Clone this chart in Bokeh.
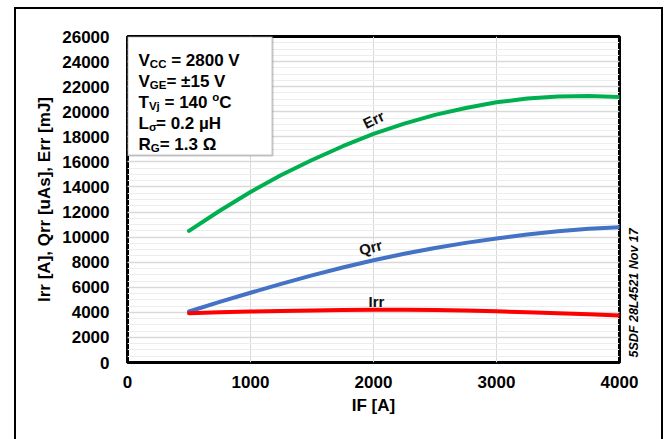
from bokeh.plotting import figure
from bokeh.models import (Range1d, SingleIntervalTicker, FixedTicker, Label,
                          BoxAnnotation, LinearAxis)
from bokeh.embed import file_html
from bokeh.resources import INLINE
import math

# ---- data ----
IF = [500, 750, 1000, 1250, 1500, 1750, 2000, 2250, 2500, 2750, 3000, 3250, 3500, 3750, 4000]
Err = [10500, 12100, 13600, 14950, 16150, 17250, 18230, 19050, 19750, 20300, 20750, 21050, 21220, 21260, 21170]
Qrr = [4070, 4830, 5560, 6270, 6950, 7580, 8160, 8670, 9130, 9540, 9890, 10210, 10470, 10670, 10790]
Irr = [3930, 4000, 4070, 4110, 4150, 4180, 4200, 4200, 4180, 4140, 4080, 4010, 3930, 3840, 3750]

x_title = "IF [A]"
y_title = "Irr [A], Qrr [uAs], Err [mJ]"
series_names = ["Err", "Qrr", "Irr"]
NB = "\u00a0"
cond_lines = [
    [("V", "m"), ("CC", "sub"), (NB + "= 2800 V", "m")],
    [("V", "m"), ("GE", "sub"), ("= \u00b115 V", "m")],
    [("T", "m"), ("Vj", "sub"), (NB + "= 140" + NB, "m"), ("o", "sup"), ("C", "m")],
    [("L", "m"), ("\u03c3", "sub"), ("= 0.2 \u00b5H", "m")],
    [("R", "m"), ("G", "sub"), ("= 1.3 \u03a9", "m")],
]
doc_id = "5SDF 28L4521 Nov 17"
doc_id_at = 400

XMIN, XMAX, YMIN, YMAX = 0, 4000, 0, 26000

# ---- layout (page pixels; canvas at page origin) ----
WIDTH, HEIGHT = 667, 439
FL, FR, FT, FB = 127, 619, 36, 362
FW, FH = FR - FL, FB - FT
FONT = "Liberation Sans"


def X(px):
    return XMIN + (px - FL) / FW * (XMAX - XMIN)


def Y(py):
    return YMIN + (FB - py) / FH * (YMAX - YMIN)


p = figure(width=WIDTH, height=HEIGHT, output_backend="svg", toolbar_location=None,
           x_range=Range1d(XMIN, XMAX), y_range=Range1d(YMIN, YMAX),
           min_border_left=FL, min_border_right=WIDTH - FR,
           min_border_top=FT, min_border_bottom=HEIGHT - FB)
p.background_fill_color = "white"
p.border_fill_alpha = 0
p.outline_line_color = "black"
p.outline_line_width = 3
p.styles = {
    "background": ("linear-gradient(#000,#000) 14px 7px / 2px 440px no-repeat, "
                   "linear-gradient(#000,#000) 14px 7px / 649px 2px no-repeat, "
                   "linear-gradient(#000,#000) 661px 7px / 2px 440px no-repeat, #fff"),
}

xax = p.xaxis[0]
yax = p.yaxis[0]
xax.ticker = SingleIntervalTicker(interval=1000, num_minor_ticks=0)
yax.ticker = SingleIntervalTicker(interval=2000, num_minor_ticks=4)
p.xgrid[0].ticker = xax.ticker
p.ygrid[0].ticker = yax.ticker

# right axis carrying the document id as its only label
rax = LinearAxis(ticker=FixedTicker(ticks=[doc_id_at]),
                 major_label_overrides={doc_id_at: doc_id},
                 major_label_orientation=math.pi / 2)
p.add_layout(rax, "right")

for ax in (xax, yax, rax):
    ax.axis_line_color = None
    ax.major_tick_line_color = None
    ax.minor_tick_line_color = None
    ax.major_label_text_font = FONT
    ax.major_label_text_font_style = "bold"
    ax.major_label_text_font_size = "17px"
    ax.major_label_text_color = "black"
    ax.axis_label_text_font = FONT
    ax.axis_label_text_font_style = "bold"
    ax.axis_label_text_font_size = "17px"
    ax.axis_label_text_color = "black"
rax.major_label_text_font_style = "bold italic"
rax.major_label_text_font_size = "12.5px"
rax.major_label_standoff = 9

xax.major_label_standoff = 7
yax.major_label_standoff = 12
xax.axis_label = x_title
yax.axis_label = y_title
xax.axis_label_standoff = 5
yax.axis_label_standoff = 5

p.xgrid.grid_line_color = "#D9D9D9"
p.xgrid.grid_line_width = 1
p.ygrid.grid_line_color = "#D9D9D9"
p.ygrid.grid_line_width = 1.5
p.ygrid.minor_grid_line_color = "#EDEDED"
p.ygrid.minor_grid_line_width = 1

p.line(IF, Err, line_color="#00B050", line_width=4, line_cap="round", line_join="round")
p.line(IF, Qrr, line_color="#4472C4", line_width=4, line_cap="round", line_join="round")
p.line(IF, Irr, line_color="#FF0000", line_width=4, line_cap="round", line_join="round")

# series labels
for name, (cx, cy, ang) in zip(series_names, [(373, 119, 26), (370, 247, 15), (376, 301, 0)]):
    p.add_layout(Label(x=X(cx), y=Y(cy), text=name, angle=ang, angle_units="deg",
                       text_align="center", text_baseline="middle",
                       text_font=FONT, text_font_style="bold",
                       text_font_size="15px", text_color="#111111"))

# conditions box
p.add_layout(BoxAnnotation(left=X(127), right=X(272), top=Y(36), bottom=Y(155),
                           fill_color="white", fill_alpha=1.0,
                           line_color="#404040", line_width=2))

W = {' ': .278, NB: .278, '=': .584, '\u00b1': .584, '.': .278, 'V': .667, 'C': .722,
     'G': .778, 'E': .667, 'T': .611, 'j': .278, 'L': .611, '\u03c3': .617, 'R': .722,
     '\u00b5': .611, 'H': .722, '\u03a9': .768, 'o': .611}


def tw(s, size):
    return sum(W.get(c, .556) for c in s) * size


MAIN, SUB = 17, 11.5
x0 = 138
for i, segs in enumerate(cond_lines):
    base = 60 + 21 * i
    x = x0
    for txt, kind in segs:
        size = MAIN if kind == "m" else SUB
        yb = base if kind == "m" else (base + 3.5 if kind == "sub" else base - 6)
        p.add_layout(Label(x=X(x), y=Y(yb), text=txt, text_align="left",
                           text_baseline="alphabetic", text_font=FONT,
                           text_font_style="bold", text_font_size=f"{size}px",
                           text_color="black"))
        x += tw(txt, size)

open("out.html", "w").write(file_html(p, INLINE))
